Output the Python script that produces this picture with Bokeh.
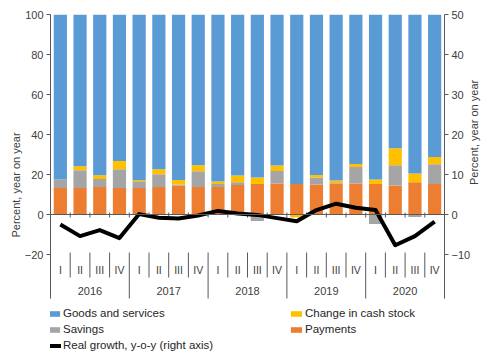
import math
from bokeh.plotting import figure
from bokeh.models import (FactorRange, Range1d, LinearAxis, FixedTicker, Span,
                          Legend, LegendItem)
from bokeh.embed import file_html
from bokeh.resources import INLINE
from bokeh.core.properties import value
import numpy as np

# ---------------- data ----------------
years = ["2016", "2017", "2018", "2019", "2020"]
quarters = ["I", "II", "III", "IV"]

payments = [13.2, 13.3, 13.8, 13.3, 13.3, 13.8, 14.5, 13.8, 13.8, 14.8,
            15.3, 15.5, 15.2, 15.0, 15.5, 15.5, 15.2, 14.5, 16.1, 15.3]
savings = [4.3, 8.8, 4.0, 9.3, 3.3, 6.3, 0.5, 7.8, 1.5, 1.3,
           -3.2, 6.3, 0.0, 3.5, 0.3, 8.2, -4.8, 10.1, -1.2, 9.8]
cash_stock = [0.0, 2.0, 1.8, 4.2, 0.7, 2.5, 2.3, 3.0, 1.2, 3.4,
              3.2, 2.7, -1.5, 1.2, 1.2, 1.5, 2.3, 8.5, 4.4, 3.7]
goods = [82.5, 75.9, 80.4, 73.2, 82.7, 77.4, 82.7, 75.4, 83.5, 80.5,
         81.5, 75.5, 84.8, 80.3, 83.0, 74.8, 82.5, 66.9, 79.5, 71.2]
real_growth = [-2.5, -5.4, -3.9, -5.9, 0.1, -0.8, -1.0, -0.25, 0.9, 0.25,
               -0.1, -0.9, -1.7, 1.1, 2.7, 1.7, 1.1, -7.7, -5.4, -1.8]

left_ticks = [-20, 0, 20, 40, 60, 80, 100]
right_ticks = [-10, 0, 10, 20, 30, 40, 50]

series_names = ["Goods and services", "Change in cash stock", "Savings",
                "Payments", "Real growth, y-o-y (right axis)"]

# ---------------- styles ----------------
C_GOODS = "#5B9BD5"
C_CASH = "#FFC000"
C_SAV = "#A5A5A5"
C_PAY = "#ED7D31"
AX = "#595959"
TXT = "#404040"
FONT = "Liberation Sans"

factors = [(y, q) for y in years for q in quarters]

# stacking with separate positive / negative stacks
pay = np.array(payments)
sav = np.array(savings)
cash = np.array(cash_stock)
gds = np.array(goods)

pay_bot, pay_top = np.zeros_like(pay), pay
sav_bot = np.where(sav >= 0, pay, 0.0)
sav_top = sav_bot + sav
pos_after_sav = pay + np.clip(sav, 0, None)
neg_after_sav = np.clip(sav, None, 0)
cash_bot = np.where(cash >= 0, pos_after_sav, neg_after_sav)
cash_top = cash_bot + cash
gds_bot = pos_after_sav + np.clip(cash, 0, None)
gds_top = gds_bot + gds

x_range = FactorRange(factors=factors, factor_padding=0, group_padding=0,
                      subgroup_padding=0, range_padding=0)

Y_BOTTOM = -70.5      # frame extends down to hold category labels and legend
AXIS_BOTTOM = -42     # where the axis lines stop

p = figure(width=489, height=355, x_range=x_range, y_range=Range1d(Y_BOTTOM, 100),
           x_axis_location=None, output_backend="svg", toolbar_location=None,
           min_border_left=50, min_border_right=39, min_border_top=14,
           min_border_bottom=0)
p.grid.visible = False
p.outline_line_color = None
p.background_fill_color = "white"

p.extra_y_ranges = {"right": Range1d(Y_BOTTOM / 2, 50)}

def style_axis(ax, ticks, bounds, label_standoff):
    ax.ticker = FixedTicker(ticks=ticks)
    ax.bounds = bounds
    ax.axis_line_color = AX
    ax.major_tick_line_color = AX
    ax.minor_tick_line_color = None
    ax.major_tick_in = 0
    ax.major_tick_out = 4
    ax.major_label_standoff = 3
    ax.major_label_text_font = FONT
    ax.major_label_text_font_size = "11px"
    ax.major_label_text_color = TXT
    ax.axis_label = "Percent, year on year"
    ax.axis_label_text_font = FONT
    ax.axis_label_text_font_size = "11px"
    ax.axis_label_text_font_style = "normal"
    ax.axis_label_text_color = TXT
    ax.axis_label_standoff = label_standoff

style_axis(p.yaxis[0], left_ticks, (AXIS_BOTTOM, 100), 0)
right_axis = LinearAxis(y_range_name="right")
style_axis(right_axis, right_ticks, (AXIS_BOTTOM / 2, 50), 1)
if "axis_label_orientation" in right_axis.properties():
    right_axis.axis_label_orientation = math.pi / 2
p.add_layout(right_axis, "right")

bar_w = 0.67
r_pay = p.vbar(x=factors, bottom=pay_bot, top=pay_top, width=bar_w,
               fill_color=C_PAY, line_color=None)
r_sav = p.vbar(x=factors, bottom=sav_bot, top=sav_top, width=bar_w,
               fill_color=C_SAV, line_color=None)
r_cash = p.vbar(x=factors, bottom=cash_bot, top=cash_top, width=bar_w,
                fill_color=C_CASH, line_color=None)
r_goods = p.vbar(x=factors, bottom=gds_bot, top=gds_top, width=bar_w,
                 fill_color=C_GOODS, line_color=None)

# zero line
p.add_layout(Span(location=0, dimension="width", line_color=AX, line_width=1))

# boundaries between quarters
bounds = [(y, q, -0.5) for (y, q) in factors] + [(factors[-1][0], factors[-1][1], 0.5)]
is_year = [i % 4 == 0 for i in range(len(bounds))]
p.segment(x0=bounds, x1=bounds, y0=[1.0] * len(bounds), y1=[-1.5] * len(bounds),
          line_color=AX, line_width=1)
short_b = [b for b, yr in zip(bounds, is_year) if not yr]
long_b = [b for b, yr in zip(bounds, is_year) if yr]
p.segment(x0=short_b, x1=short_b, y0=[-19] * len(short_b), y1=[-31.5] * len(short_b),
          line_color=AX, line_width=1)
p.segment(x0=long_b, x1=long_b, y0=[-19] * len(long_b), y1=[AXIS_BOTTOM] * len(long_b),
          line_color=AX, line_width=1)

# category labels
p.text(x=factors, y=[-27.7] * len(factors), text=[q for (_, q) in factors],
       text_align="center", text_baseline="middle", text_font=value(FONT),
       text_font_size="10.5px", text_color=TXT)
p.text(x=years, y=[-38.3] * len(years), text=years,
       text_align="center", text_baseline="middle", text_font=value(FONT),
       text_font_size="11px", text_color=TXT)

# growth line
r_line = p.line(x=factors, y=real_growth, y_range_name="right", line_color="black",
                line_width=4, line_join="round")

legend = Legend(items=[
    LegendItem(label=series_names[0], renderers=[r_goods]),
    LegendItem(label=series_names[1], renderers=[r_cash]),
    LegendItem(label=series_names[2], renderers=[r_sav]),
    LegendItem(label=series_names[3], renderers=[r_pay]),
    LegendItem(label=series_names[4], renderers=[r_line]),
], orientation="horizontal", ncols=2, location=(-3, 3), margin=0, padding=0,
    spacing=2, glyph_width=14, glyph_height=7, label_standoff=2, label_width=224,
    label_height=14, label_text_font=FONT, label_text_font_size="11.5px",
    label_text_color="#262626", border_line_color=None, background_fill_alpha=0)
p.add_layout(legend, "center")

open("out.html", "w").write(file_html(p, INLINE))
